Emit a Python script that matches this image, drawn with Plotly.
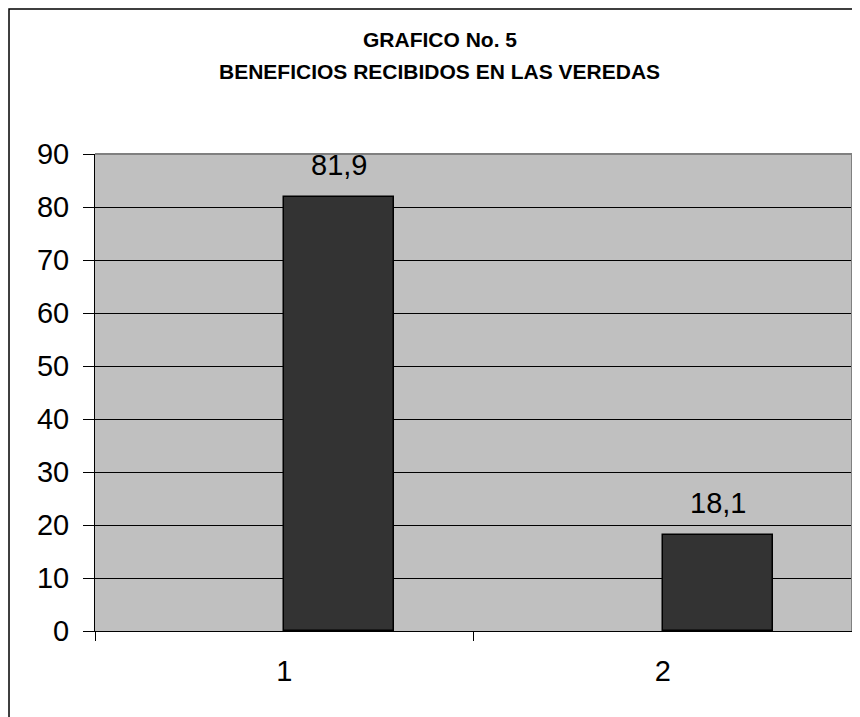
import plotly.graph_objects as go

categories = [1, 2]
values = [81.9, 18.1]
tick_labels = ["1", "2"]
title_line1 = "GRAFICO No. 5"
title_line2 = "BENEFICIOS RECIBIDOS EN LAS VEREDAS"

FONT = "Liberation Sans, Arial, sans-serif"
BAR_W = 0.29

fig = go.Figure()
fig.add_trace(go.Bar(
    x=categories, y=values, width=BAR_W, offset=0,
    marker=dict(color="#333333", line=dict(color="#000000", width=1.5)),
    hoverinfo="skip", showlegend=False,
))

annotations = []
for c, v in zip(categories, values):
    annotations.append(dict(
        x=c + BAR_W / 2, y=v, xref="x", yref="y",
        text=f"{v:.1f}".replace(".", ","), showarrow=False,
        yanchor="bottom", yshift=14,
        font=dict(family=FONT, size=29, color="#000000"),
    ))
annotations.append(dict(x=0.4557, y=1.239, xref="paper", yref="paper",
                        text=f"<b>{title_line1}</b>", showarrow=False,
                        xanchor="center", yanchor="middle",
                        font=dict(family=FONT, size=21, color="#000000")))
annotations.append(dict(x=0.4557, y=1.174, xref="paper", yref="paper",
                        text=f"<b>{title_line2}</b>", showarrow=False,
                        xanchor="center", yanchor="middle",
                        font=dict(family=FONT, size=21, color="#000000")))

fig.update_layout(
    width=852, height=709,
    margin=dict(l=87, r=8, t=146, b=86),
    paper_bgcolor="#FFFFFF",
    plot_bgcolor="#C0C0C0",
    font=dict(family=FONT, size=29, color="#000000"),
    annotations=annotations,
    bargap=0,
    shapes=[
        dict(type="path", xref="paper", yref="paper",
             path="M 0,1 L 1,1 L 1,0", line=dict(color="#808080", width=2), layer="above"),
        dict(type="rect", xref="paper", yref="paper",
             x0=-0.1136, x1=1.05, y0=-0.25, y1=1.304,
             line=dict(color="#000000", width=1.5), layer="above"),
    ],
)

fig.update_xaxes(
    type="linear", range=[0.5, 2.5],
    tickmode="array", tickvals=categories, ticktext=tick_labels,
    ticks="", showgrid=False, zeroline=False,
    showline=True, linecolor="#000000", linewidth=1,
    tickfont=dict(family=FONT, size=29, color="#000000"),
    ticklabelstandoff=14,
    minor=dict(tickmode="array", tickvals=[0.5, 1.5, 2.5], ticks="outside",
               ticklen=9, tickcolor="#000000", tickwidth=1, showgrid=False),
)
fig.update_yaxes(
    range=[0, 90], dtick=10, tick0=0,
    ticks="outside", ticklen=11, tickcolor="#000000", tickwidth=1,
    showgrid=True, gridcolor="#000000", gridwidth=1,
    zeroline=False, showline=True, linecolor="#000000", linewidth=1,
    tickfont=dict(family=FONT, size=29, color="#000000"),
    ticklabelstandoff=8,
)

fig.write_html("out.html")
